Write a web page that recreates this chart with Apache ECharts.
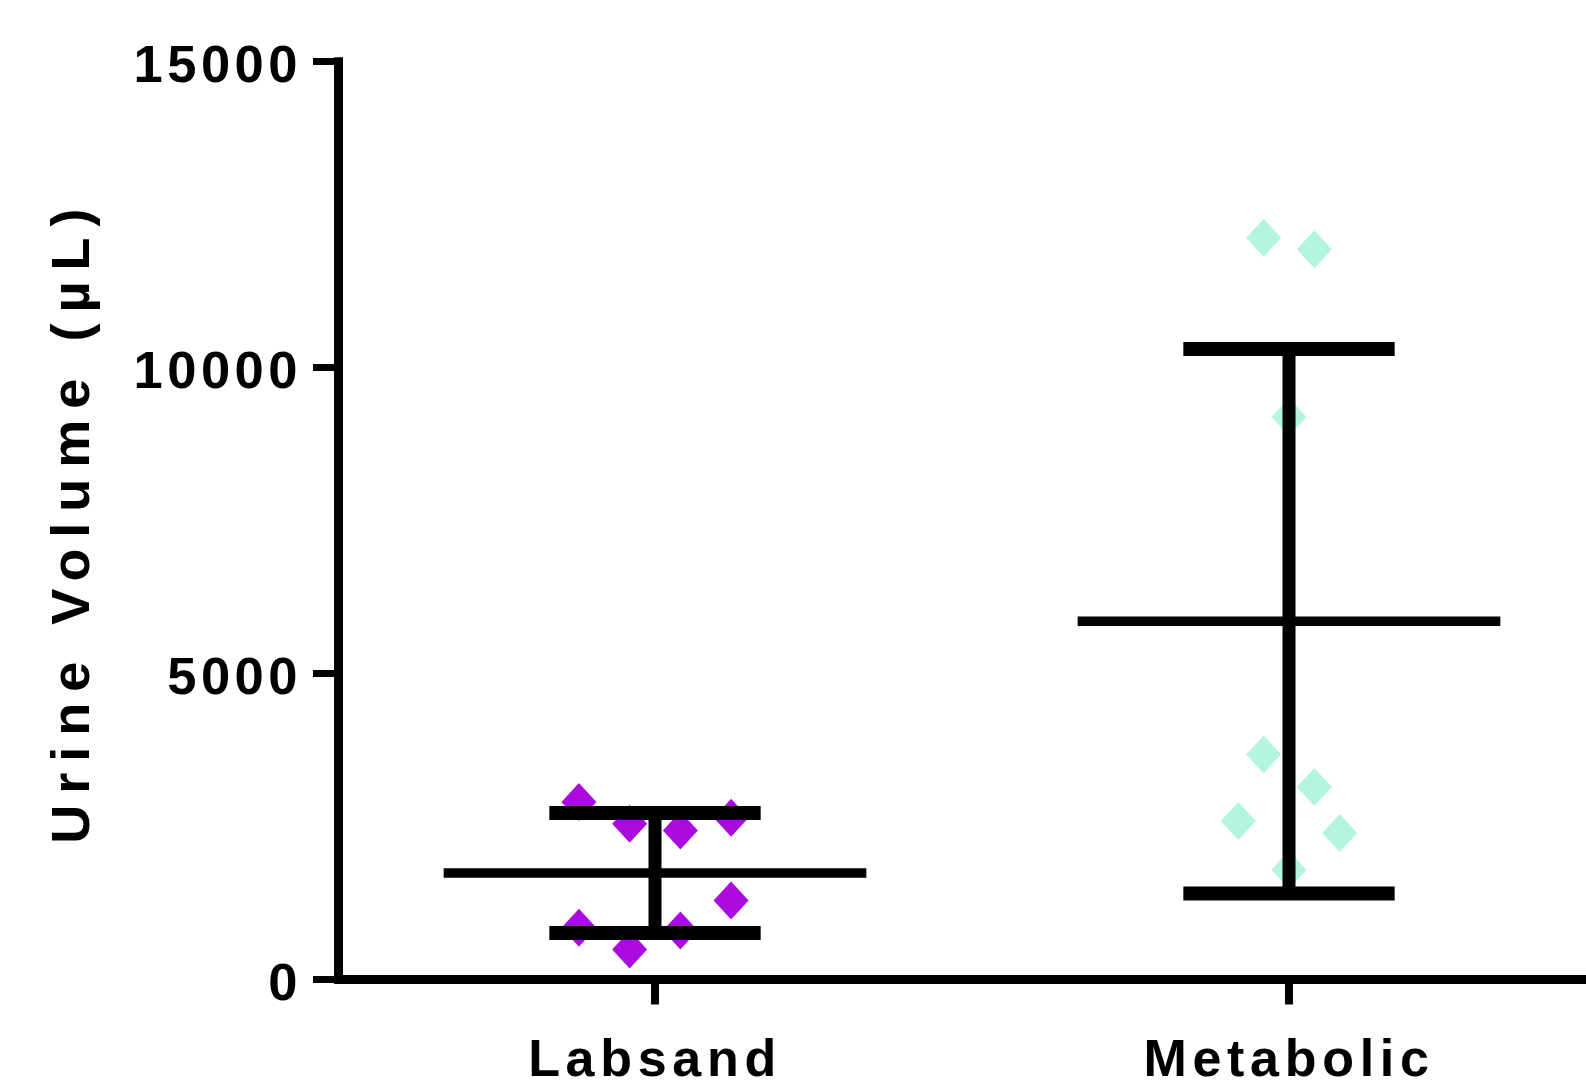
<!DOCTYPE html>
<html>
<head>
<meta charset="utf-8">
<script src="https://cdn.jsdelivr.net/npm/echarts@6/dist/echarts.min.js"></script>
<style>
html,body{margin:0;padding:0;background:#fff;}
#chart{width:1586px;height:1081px;}
</style>
</head>
<body>
<div id="chart"></div>
<script>
// ---- data ----
const categories = ['Labsand', 'Metabolic'];
const labsandValues = [2899, 2546, 2437, 2644, 1292, 845, 491, 801];
const labsandSlots = [-1.5, -0.5, 0.5, 1.5, 1.5, -1.5, -0.5, 0.5];
const metabolicValues = [12123, 11933, 9195, 3679, 3145, 2589, 2393, 1794];
const metabolicSlots = [-0.5, 0.5, 0, -0.5, 0.5, -1, 1, 0];
const groupMeans = [1742, 5854];
const groupSDs = [981, 4450];
const yTicks = [0, 5000, 10000, 15000];
const yTitle = 'Urine Volume (µL)';

// ---- letter spacing (canvas) keyed by font size ----
const spacingBySize = {'52': 5.7, '52.5': 4.5, '54': 11};
const origFill = CanvasRenderingContext2D.prototype.fillText;
CanvasRenderingContext2D.prototype.fillText = function (t, x, y, w) {
  const m = /(\d+(?:\.\d+)?)px/.exec(this.font);
  const sp = m ? spacingBySize[String(parseFloat(m[1]))] : 0;
  try { this.letterSpacing = (sp || 0) + 'px'; } catch (e) {}
  return w === undefined ? origFill.call(this, t, x, y) : origFill.call(this, t, x, y, w);
};

const FONT = 'Liberation Sans';
const slotWidth = 0.08;
const colors = ['#AC0BE0', '#B3F5DF'];

const chart = echarts.init(document.getElementById('chart'), null, {renderer: 'canvas'});

function pts(values, slots, ci) {
  return values.map((v, i) => [ci + slots[i] * slotWidth, v]);
}

const option = {
  animation: false,
  backgroundColor: '#fff',
  grid: {left: 338, top: 61.7, width: 1268, height: 917.8, containLabel: false, outerBoundsMode: 'none'},
  xAxis: [{
    type: 'category',
    data: categories,
    boundaryGap: true,
    axisLine: {show: true, onZero: false, lineStyle: {color: '#000', width: 9}},
    axisTick: {show: true, alignWithLabel: true, length: 25, lineStyle: {color: '#000', width: 8}},
    axisLabel: {show: true, color: '#000', fontFamily: FONT, fontWeight: 'bold', fontSize: 52, margin: 56},
    splitLine: {show: false}
  }, {
    type: 'value', min: -0.5, max: 1.5, show: false,
    axisLine: {onZero: false}
  }],
  yAxis: {
    type: 'value',
    min: yTicks[0], max: yTicks[yTicks.length - 1], interval: 5000,
    name: yTitle,
    nameLocation: 'middle',
    nameRotate: 90,
    nameGap: 237,
    nameTextStyle: {color: '#000', fontFamily: FONT, fontWeight: 'bold', fontSize: 54},
    axisLine: {show: true, onZero: false, lineStyle: {color: '#000', width: 9, cap: 'square'}},
    axisTick: {show: true, length: 25, lineStyle: {color: '#000', width: 7}},
    axisLabel: {color: '#000', fontFamily: FONT, fontWeight: 'bold', fontSize: 52.5, margin: 36,
      verticalAlign: 'top', lineHeight: 12,
      formatter: (v) => String(v)},
    splitLine: {show: false}
  },
  series: [{
    type: 'scatter',
    xAxisIndex: 1,
    symbol: 'diamond',
    symbolSize: [35, 38],
    itemStyle: {color: colors[0], opacity: 1},
    data: pts(labsandValues, labsandSlots, 0),
    z: 2
  }, {
    type: 'scatter',
    xAxisIndex: 1,
    symbol: 'diamond',
    symbolSize: [35, 38],
    itemStyle: {color: colors[1], opacity: 1},
    data: pts(metabolicValues, metabolicSlots, 1),
    z: 2
  }, {
    type: 'custom',
    xAxisIndex: 0,
    z: 5,
    data: groupMeans.map((m, i) => [i, m, groupSDs[i]]),
    renderItem: function (params, api) {
      const ci = api.value(0), mean = api.value(1), sd = api.value(2);
      const c = api.coord([ci, mean]);
      const top = api.coord([ci, mean + sd]);
      const bot = api.coord([ci, mean - sd]);
      const bw = api.size([1, 0])[0];
      const st = (w) => ({stroke: '#000', lineWidth: w, fill: null});
      return {
        type: 'group',
        children: [
          {type: 'line', shape: {x1: c[0], y1: top[1], x2: c[0], y2: bot[1]}, style: st(13)},
          {type: 'line', shape: {x1: c[0] - bw / 3, y1: c[1], x2: c[0] + bw / 3, y2: c[1]}, style: st(9.5)},
          {type: 'line', shape: {x1: c[0] - bw / 6, y1: top[1], x2: c[0] + bw / 6, y2: top[1]}, style: st(14)},
          {type: 'line', shape: {x1: c[0] - bw / 6, y1: bot[1], x2: c[0] + bw / 6, y2: bot[1]}, style: st(14)}
        ]
      };
    }
  }]
};
chart.setOption(option);
</script>
</body>
</html>
